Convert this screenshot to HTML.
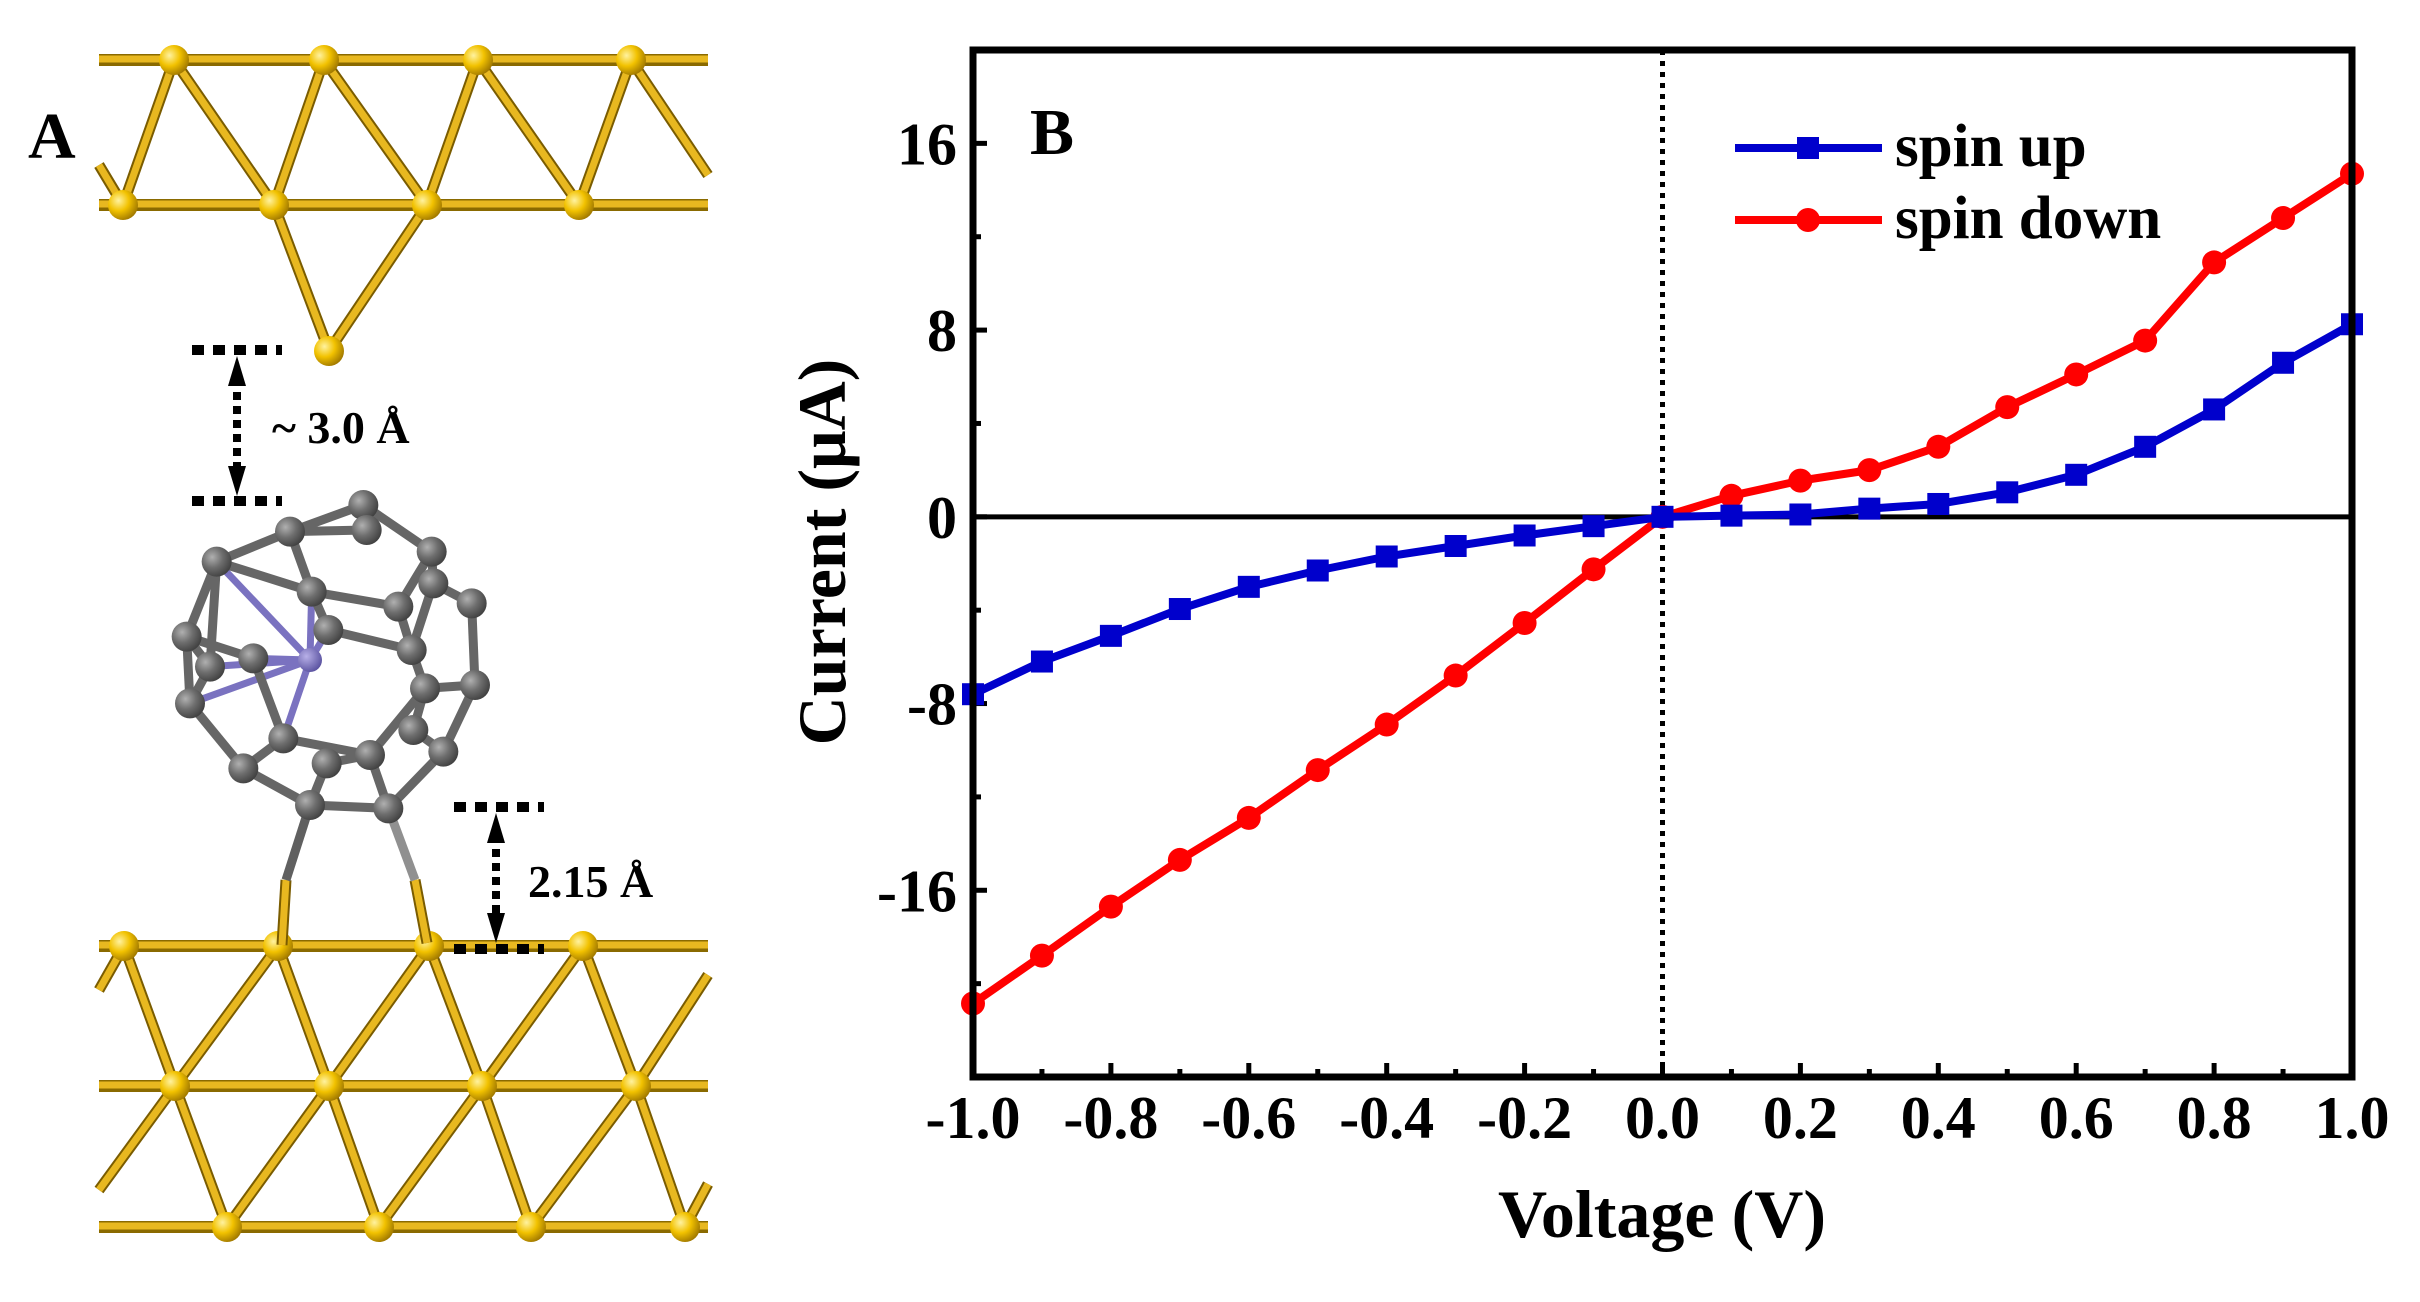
<!DOCTYPE html>
<html><head><meta charset="utf-8"><style>
html,body{margin:0;padding:0;background:#fff;}
svg{display:block;font-family:"Liberation Serif",serif;font-weight:bold;}
</style></head><body>
<svg id="fig" width="2420" height="1302" viewBox="0 0 2420 1302" xmlns="http://www.w3.org/2000/svg">
<defs>
<radialGradient id="gold" cx="0.35" cy="0.35" r="0.7"><stop offset="0" stop-color="#fff2a0"/><stop offset="0.5" stop-color="#f2c200"/><stop offset="1" stop-color="#a07800"/></radialGradient>
<radialGradient id="gray" cx="0.35" cy="0.35" r="0.7"><stop offset="0" stop-color="#b0b0b0"/><stop offset="0.5" stop-color="#6e6e6e"/><stop offset="1" stop-color="#404040"/></radialGradient>
<radialGradient id="metal" cx="0.35" cy="0.35" r="0.7"><stop offset="0" stop-color="#b8b0e8"/><stop offset="1" stop-color="#5a52a0"/></radialGradient>
</defs>
<g id="panelA"></g>
<g id="panelB"></g>
</svg>
<script>
// ---------- Chart data ----------
const voltages = [-1.0,-0.9,-0.8,-0.7,-0.6,-0.5,-0.4,-0.3,-0.2,-0.1,0.0,0.1,0.2,0.3,0.4,0.5,0.6,0.7,0.8,0.9,1.0];
const spinUp = [-7.6,-6.2,-5.1,-3.95,-3.0,-2.3,-1.7,-1.25,-0.8,-0.4,0,0.05,0.1,0.35,0.55,1.05,1.8,3.0,4.6,6.6,8.25];
const spinDown = [-20.85,-18.8,-16.7,-14.7,-12.9,-10.85,-8.9,-6.8,-4.55,-2.25,0,0.9,1.55,2.0,3.0,4.7,6.1,7.55,10.9,12.8,14.7];
const xTicks = [-1.0,-0.8,-0.6,-0.4,-0.2,0.0,0.2,0.4,0.6,0.8,1.0];
const xTickLabels = ["-1.0","-0.8","-0.6","-0.4","-0.2","0.0","0.2","0.4","0.6","0.8","1.0"];
const yTicks = [-16,-8,0,8,16];
const yTickLabels = ["-16","-8","0","8","16"];

const NS="http://www.w3.org/2000/svg";
function mk(tag, attrs, parent){const e=document.createElementNS(NS,tag);for(const k in attrs)e.setAttribute(k,attrs[k]);parent.appendChild(e);return e;}

// ---------- Panel B ----------
const B=document.getElementById('panelB');
const L=973,R=2352,T=50,Bt=1077, X0=-1,X1=1,Y0=-24,Y1=20;
const sx=v=>L+(v-X0)/(X1-X0)*(R-L);
const sy=v=>Bt-(v-Y0)/(Y1-Y0)*(Bt-T);

let zl=mk('line',{x1:L,x2:R,y1:sy(0),y2:sy(0),stroke:'#000','stroke-width':5},B);


let zv=mk('line',{x1:sx(0),x2:sx(0),y1:T,y2:Bt,stroke:'#000','stroke-width':5,'stroke-dasharray':'5 6'},B);



for(let v=-1;v<=1.0001;v+=0.1){
  const major=Math.abs(Math.round(v*10))%2===0;
  const t=mk('line',{x1:sx(v),x2:sx(v),y1:Bt,y2:Bt-(major?14:8),stroke:'#000','stroke-width':5},B);
  
  
}
for(let v=-24;v<=20;v+=4){
  const major=v%8===0;
  const t=mk('line',{x1:L,x2:L+(major?14:8),y1:sy(v),y2:sy(v),stroke:'#000','stroke-width':5},B);
  
  
}
xTicks.forEach((v,i)=>{
  const t=mk('text',{x:sx(v),y:1138,'text-anchor':'middle','font-size':60},B);
  t.textContent=xTickLabels[i];
  
  
});
yTicks.forEach((v,i)=>{
  const t=mk('text',{x:957,y:sy(v)+21,'text-anchor':'end','font-size':60},B);
  t.textContent=yTickLabels[i];
  
  
});

function series(vals,color,shape,name){
  const g=mk('g',{},B);
  
  
  const pts=voltages.map((v,i)=>sx(v)+','+sy(vals[i])).join(' ');
  const pl=mk('polyline',{points:pts,fill:'none',stroke:color,'stroke-width':8,'stroke-linejoin':'round'},g);
  
  
  voltages.forEach((v,i)=>{
    let m;
    if(shape==='sq') m=mk('rect',{x:sx(v)-11,y:sy(vals[i])-11,width:22,height:22,fill:color},g);
    else m=mk('circle',{cx:sx(v),cy:sy(vals[i]),r:12,fill:color},g);
    
    
  });
}
series(spinDown,'#ff0000','ci','spin-down-series');
series(spinUp,'#0000cc','sq','spin-up-series');

let fr=mk('rect',{x:L,y:T,width:R-L,height:Bt-T,fill:'none',stroke:'#000','stroke-width':7},B);



const lg=mk('g',{},B);


[['spin up','#0000cc',148,'sq'],['spin down','#ff0000',220,'ci']].forEach(([lab,c,y,s])=>{
  const e=mk('g',{},lg);
  
  
  mk('line',{x1:1735,x2:1882,y1:y,y2:y,stroke:c,'stroke-width':8},e);
  if(s==='sq') mk('rect',{x:1797,y:y-11,width:22,height:22,fill:c},e);
  else mk('circle',{cx:1808,cy:y,r:12,fill:c},e);
  const t=mk('text',{x:1895,y:y+18,'font-size':61},e);
  t.textContent=lab;
});

let pb=mk('text',{x:1030,y:154,'font-size':66},B); pb.textContent='B';


let xt=mk('text',{x:1662,y:1237,'text-anchor':'middle','font-size':68},B); xt.textContent='Voltage (V)';


let yt=mk('text',{x:0,y:0,'text-anchor':'middle','font-size':68,transform:'translate(845,552) rotate(-90)'},B); yt.textContent='Current (μA)';



// ---------- Panel A ----------
const A=document.getElementById('panelA');
function goldBond(a,b){mk('line',{x1:a[0],y1:a[1],x2:b[0],y2:b[1],stroke:'#7a5c00','stroke-width':11,'stroke-linecap':'butt'},A);mk('line',{x1:a[0],y1:a[1],x2:b[0],y2:b[1],stroke:'#e8b820','stroke-width':7,'stroke-linecap':'butt'},A);}
function goldAtom(p){mk('circle',{cx:p[0],cy:p[1],r:15,fill:'url(#gold)'},A);}
function hline(y){mk('line',{x1:99,x2:708,y1:y,y2:y,stroke:'#8a6a00','stroke-width':12},A);mk('line',{x1:99,x2:708,y1:y-1,y2:y-1,stroke:'#e8b820','stroke-width':7},A);}
const t1=[[174,60],[324,60],[478,60],[631,60]], t2=[[123,205],[274,205],[427,205],[579,205]];
hline(60);hline(205);
goldBond([99,165],[123,205]);
for(let i=0;i<4;i++){goldBond(t2[i],t1[i]);goldBond(t1[i],i<3?t2[i+1]:[708,175]);}
const apex=[329,351];
goldBond(t2[1],apex);goldBond(t2[2],apex);
t1.concat(t2).forEach(goldAtom);goldAtom(apex);
const b1=[[124,946],[278,946],[429,946],[583,946]], b2=[[175,1086],[329,1086],[482,1086],[636,1086]], b3=[[227,1227],[379,1227],[531,1227],[685,1227]];
hline(946);hline(1086);hline(1227);
for(let i=0;i<4;i++){
  goldBond(b1[i],b2[i]); if(i<3) goldBond(b1[i+1],b2[i]);
  goldBond(b2[i],b3[i]); if(i<3) goldBond(b2[i+1],b3[i]);
}
goldBond([99,990],b1[0]);goldBond([99,1190],b2[0]);goldBond([708,975],b2[3]);goldBond([708,1184],b3[3]);
b1.concat(b2,b3).forEach(goldAtom);
const z=[[640,75],[420,155],[200,245],[845,215],[485,335],[745,380],[965,370],[535,450],[110,470],[310,535],[785,510],[120,670],[825,625],[975,615],[400,775],[660,825],[880,815],[280,865],[530,850],[480,975],[715,985],[650,150],[850,310],[790,750],[180,560]];
const C=z.map(p=>[150+p[0]/3,480+p[1]/3]);
const M=[150+480/3,480+540/3];
const bonds=[[0,1],[1,2],[0,3],[0,21],[21,1],[3,22],[22,6],[3,5],[2,4],[1,4],[4,5],[5,10],[6,13],[13,12],[12,10],[12,23],[23,16],[16,13],[2,8],[8,24],[8,9],[24,11],[11,17],[17,14],[14,15],[15,18],[15,20],[16,20],[20,19],[19,17],[19,18],[14,9],[7,10],[4,7],[12,15],[22,10],[2,24],[11,8]];
goldBond([282,945],[286,880]);goldBond([427,943],[415,880]);
mk('line',{x1:C[19][0],y1:C[19][1],x2:286,y2:880,stroke:'#606060','stroke-width':9},A);
mk('line',{x1:C[20][0],y1:C[20][1],x2:415,y2:880,stroke:'#909090','stroke-width':9},A);
[2,9,24,11,14,4,7].forEach(i=>mk('line',{x1:M[0],y1:M[1],x2:C[i][0],y2:C[i][1],stroke:'#7a72c0','stroke-width':7},A));
bonds.forEach(([a,b])=>mk('line',{x1:C[a][0],y1:C[a][1],x2:C[b][0],y2:C[b][1],stroke:'#666','stroke-width':9},A));
mk('circle',{cx:M[0],cy:M[1],r:12,fill:'url(#metal)'},A);
C.forEach(p=>mk('circle',{cx:p[0],cy:p[1],r:15,fill:'url(#gray)'},A));
function dots(x1,x2,y){mk('line',{x1:x1,x2:x2,y1:y,y2:y,stroke:'#000','stroke-width':10,'stroke-dasharray':'12 9'},A);}
dots(192,282,350);dots(192,282,501);dots(454,544,807);dots(454,544,949);
function arrow(x,y1,y2){mk('line',{x1:x,x2:x,y1:y1+22,y2:y2-22,stroke:'#000','stroke-width':8,'stroke-dasharray':'8 6'},A);
 mk('polygon',{points:`${x},${y1} ${x-9},${y1+30} ${x+9},${y1+30}`,fill:'#000'},A);
 mk('polygon',{points:`${x},${y2} ${x-9},${y2-30} ${x+9},${y2-30}`,fill:'#000'},A);}
arrow(237,356,496);arrow(496,813,943);
let d1=mk('text',{x:272,y:443,'font-size':46},A); d1.textContent='~ 3.0 Å';


let d2=mk('text',{x:528,y:897,'font-size':46},A); d2.textContent='2.15 Å';


let pa=mk('text',{x:28,y:158,'font-size':66},A); pa.textContent='A';


</script>
</body></html>
